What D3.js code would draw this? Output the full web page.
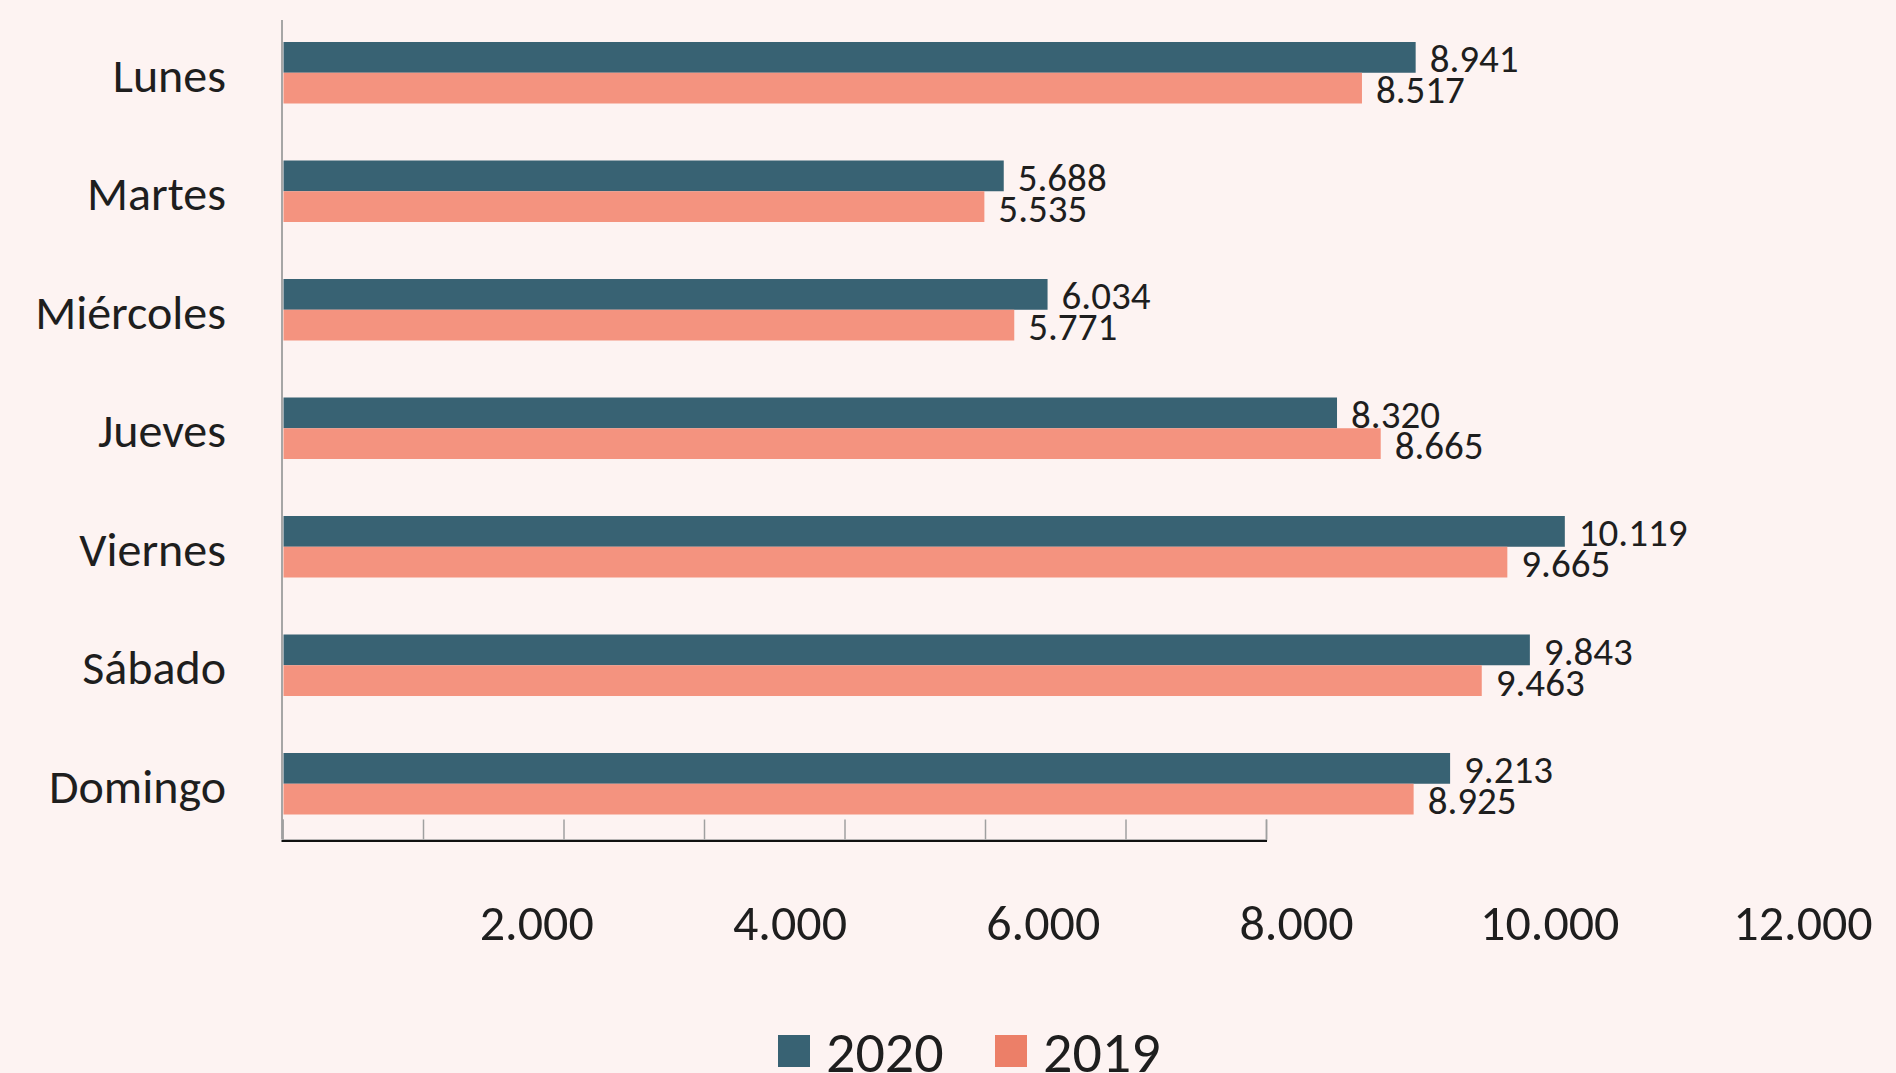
<!DOCTYPE html>
<html>
<head>
<meta charset="utf-8">
<script src="https://cdn.jsdelivr.net/npm/d3@7"></script>
<style>
	html, body { margin: 0; padding: 0; background: #FDF3F2; }
	svg { display: block; }
	text { font-family: Carlito, Calibri, Lato, sans-serif; fill: #1e1e1e; }
</style>
</head>
<body>
<svg id="chart" width="1896" height="1073"></svg>
<script>

// datos
var days = ["Lunes", "Martes", "Miércoles", "Jueves", "Viernes", "Sábado", "Domingo"];
var values2020 = [8941, 5688, 6034, 8320, 10119, 9843, 9213];
var values2019 = [8517, 5535, 5771, 8665, 9665, 9463, 8925];
var seriesNames = ["2020", "2019"];
var tickValues = [2000, 4000, 6000, 8000, 10000, 12000];


var barColors = { "2020": "#386273", "2019": "#F4937F" };
var legendColors = { "2020": "#386273", "2019": "#EC7F68" };

var es = d3.formatLocale({ decimal: ",", thousands: ".", grouping: [3], currency: ["", " €"] });
var fmt = es.format(",d");

var svg = d3.select("#chart");

var left = 283.5, right = 1803;
var topY = 42, step = 118.5, pairHeight = 61.5;
var baseY = 839.5;

var x = d3.scaleLinear().domain([0, 12000]).range([left, right]);

var y = d3.scaleBand()
	.domain(days)
	.paddingInner(1 - pairHeight / step)
	.paddingOuter(0)
	.range([topY, topY + step * (days.length - (1 - pairHeight / step))]);

var ySeries = d3.scaleBand().domain(seriesNames).range([0, y.bandwidth()]);

var rows = days.map(function(d, i){
	return { day: d, values: [ { s: "2020", v: values2020[i] }, { s: "2019", v: values2019[i] } ] };
});

// barras
var groups = svg.selectAll("g.day")
	.data(rows)
	.enter()
	.append("g")
	.attr("class", "day")
	.attr("transform", function(d){ return "translate(0," + y(d.day) + ")"; });

groups.selectAll("rect")
	.data(function(d){ return d.values; })
	.enter()
	.append("rect")
	.attr("x", x(0))
	.attr("y", function(d){ return ySeries(d.s); })
	.attr("width", function(d){ return x(d.v) - x(0); })
	.attr("height", ySeries.bandwidth())
	.style("fill", function(d){ return barColors[d.s]; });

// etiquetas de valor
groups.selectAll("text.val")
	.data(function(d){ return d.values; })
	.enter()
	.append("text")
	.attr("class", "val")
	.attr("x", function(d){ return x(d.v) + 14; })
	.attr("y", function(d){ return ySeries(d.s) + ySeries.bandwidth() - 0.5; })
	.style("font-size", "39px")
	.text(function(d){ return fmt(d.v); });

// nombres de los dias
svg.selectAll("text.dayname")
	.data(days)
	.enter()
	.append("text")
	.attr("class", "dayname")
	.attr("x", 226)
	.attr("y", function(d){ return y(d) + y.bandwidth() / 2 + 19; })
	.attr("text-anchor", "end")
	.style("font-size", "48px")
	.text(function(d){ return d; });

// eje vertical
svg.append("line")
	.attr("x1", x(0) - 1.5).attr("x2", x(0) - 1.5)
	.attr("y1", 20).attr("y2", baseY)
	.style("stroke", "#A6A6A6")
	.style("stroke-width", 2);

// linea base con marcas (no coincide con la escala de las barras, igual que el original)
var xMarks = d3.scaleLinear().domain([0, 7]).range([left - 1, 1266]);
var markAxis = d3.axisTop(xMarks).ticks(7).tickSize(20).tickSizeOuter(20).tickFormat("");
var gMarks = svg.append("g")
	.attr("transform", "translate(0," + baseY + ")")
	.call(markAxis);
gMarks.selectAll(".tick line").style("stroke", "#A0A0A0").style("stroke-width", 1.5);
gMarks.select(".domain").style("stroke", "#A0A0A0").style("stroke-width", 1.5);
svg.append("line")
	.attr("x1", left - 2).attr("x2", 1267)
	.attr("y1", baseY + 1.5).attr("y2", baseY + 1.5)
	.style("stroke", "#111")
	.style("stroke-width", 2);

// etiquetas del eje x
svg.selectAll("text.tick")
	.data(tickValues)
	.enter()
	.append("text")
	.attr("class", "tick")
	.attr("x", function(d){ return x(d); })
	.attr("y", 940)
	.attr("text-anchor", "middle")
	.style("font-size", "50px")
	.text(function(d){ return fmt(d); });

// leyenda
var legendX = { "2020": 778, "2019": 995 };
var legend = svg.selectAll("g.legend")
	.data(seriesNames)
	.enter()
	.append("g")
	.attr("class", "legend")
	.attr("transform", function(d){ return "translate(" + legendX[d] + ",1035)"; });

legend.append("rect")
	.attr("width", 32)
	.attr("height", 32)
	.style("fill", function(d){ return legendColors[d]; });

legend.append("text")
	.attr("x", 48)
	.attr("y", 37)
	.style("font-size", "58px")
	.text(function(d){ return d; });

</script>
</body>
</html>
